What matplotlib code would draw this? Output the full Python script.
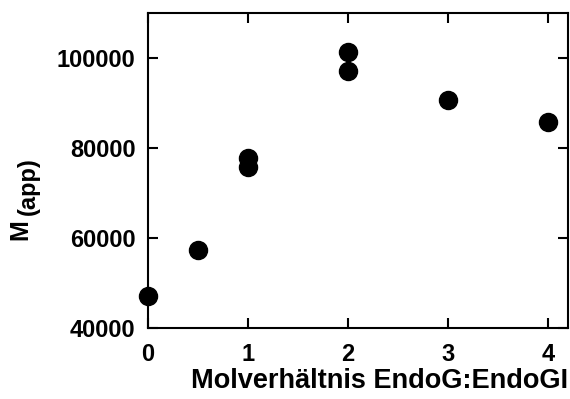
import matplotlib
matplotlib.use("Agg")
from matplotlib import pyplot as plt

plt.rcParams['font.family'] = ['Liberation Sans', 'DejaVu Sans']
plt.rcParams['font.weight'] = 'bold'

# molar ratio EndoG:EndoGI and apparent molecular mass
ratio = [0, 0.5, 1, 1, 2, 2, 3, 4]
m_app = [47100, 57300, 77800, 75700, 101400, 97100, 90700, 85700]

fig = plt.figure(figsize=(5.7, 3.99), dpi=100)
ax = fig.add_axes([0.2596, 0.178, 0.7369, 0.789])

ax.plot(ratio, m_app, 'o', color='black', markersize=13, clip_on=False, zorder=3)

ax.set_xlim(0, 4.2)
ax.set_ylim(40000, 110000)
ax.set_xticks([0, 1, 2, 3, 4])
ax.set_yticks([40000, 60000, 80000, 100000])

ax.tick_params(direction='in', length=7, width=1.5, labelsize=17,
               top=True, right=True)
ax.tick_params(axis='x', pad=11)
ax.tick_params(axis='y', pad=9)
for s in ax.spines.values():
    s.set_linewidth(1.5)

ax.set_xlabel("Molverhältnis EndoG:EndoGI", fontsize=19.5, fontweight='bold',
              ha='right')
ax.xaxis.set_label_coords(1.0, -0.128)

# y label: M with a large subscript
fig.text(0.036, 0.425, "M", rotation=90, fontsize=18, fontweight='bold',
         ha='center', va='center')
fig.text(0.049, 0.533, "(app)", rotation=90, fontsize=17, fontweight='bold',
         ha='center', va='center')

plt.savefig("out.png", dpi=100)
